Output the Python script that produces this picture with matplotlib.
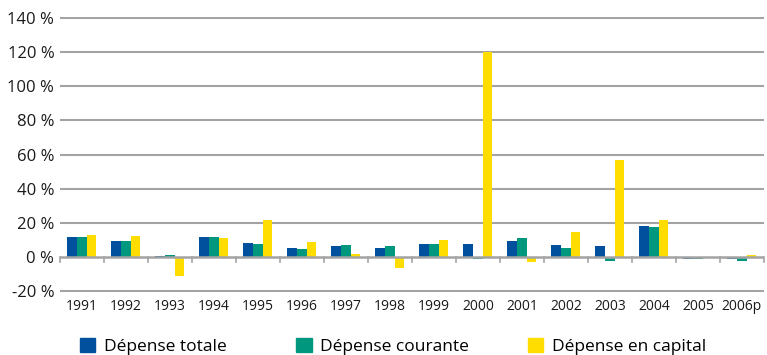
import numpy as np
import matplotlib
matplotlib.use('Agg')
import matplotlib.pyplot as plt
from matplotlib.patches import Patch

plt.rcParams['font.family'] = ['Open Sans', 'DejaVu Sans']

annees = ['1991', '1992', '1993', '1994', '1995', '1996', '1997', '1998',
          '1999', '2000', '2001', '2002', '2003', '2004', '2005', '2006p']
dep_totale = [12.0, 9.6, 0.7, 12.0, 8.4, 5.5, 6.7, 5.5,
              7.8, 7.8, 9.6, 7.3, 6.7, 18.3, -1.3, -1.2]
dep_courante = [12.0, 9.6, 1.5, 12.0, 7.8, 4.9, 7.3, 6.7,
                7.8, -1.3, 11.3, 5.5, -2.5, 17.7, -1.3, -2.0]
dep_capital = [13.1, 12.5, -11.3, 11.3, 21.8, 9.0, 2.1, -6.1,
               10.2, 120.0, -3.0, 14.8, 57.0, 21.8, 0.3, 1.5]
yticks = [-20, 0, 20, 40, 60, 80, 100, 120, 140]

c_bleu, c_vert, c_jaune = '#00509e', '#00977f', '#ffdd00'
gris = '#a3a3a3'

fig = plt.figure(figsize=(7.67, 3.55), dpi=100)
ax = fig.add_axes([0.078, 0.177, 0.918, 0.775])

x = np.arange(len(annees))
w = 0.22
ax.bar(x - w, dep_totale, w, color=c_bleu, zorder=3)
ax.bar(x, dep_courante, w, color=c_vert, zorder=3)
ax.bar(x + w, dep_capital, w, color=c_jaune, zorder=3)

# grille horizontale, ligne du zéro avec petites graduations entre années
for v in yticks:
    if v != 0:
        ax.axhline(v, color=gris, lw=1.5, zorder=1)
ax.axhline(0, color=gris, lw=1.8, zorder=4)
for b in np.arange(len(annees) + 1) - 0.5:
    ax.plot([b, b], [0, -2.6], color=gris, lw=1.2, zorder=4, clip_on=False)

ax.set_xlim(-0.5, len(annees) - 0.5)
ax.set_ylim(-20.5, 140.5)
ax.set_yticks(yticks)
ax.set_yticklabels([f'{v} %' for v in yticks], fontsize=12, color='#1a1a1a')
ax.set_xticks(x)
ax.set_xticklabels(annees, fontsize=10, color='#1a1a1a')
ax.tick_params(axis='both', length=0)
ax.tick_params(axis='y', pad=4)
ax.tick_params(axis='x', pad=5)
for s in ax.spines.values():
    s.set_visible(False)

handles = [Patch(color=c_bleu), Patch(color=c_vert), Patch(color=c_jaune)]
noms = ['Dépense totale', 'Dépense courante', 'Dépense en capital']
xs = [0.104, 0.386, 0.688]
for h, n, px in zip(handles, noms, xs):
    fig.legend([h], [n], loc='center left', bbox_to_anchor=(px, 0.025),
               frameon=False, fontsize=12.5, handlelength=0.9, handleheight=0.9,
               handletextpad=0.5, borderaxespad=0, borderpad=0)

fig.savefig('out.png', dpi=100)
